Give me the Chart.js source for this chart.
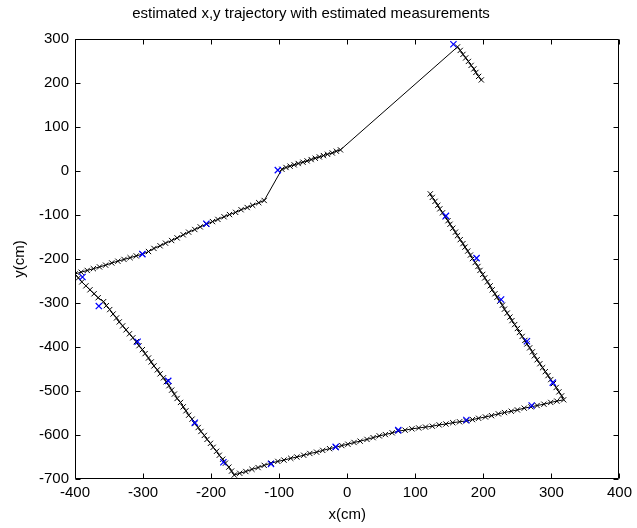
<!DOCTYPE html>
<html>
<head>
<meta charset="utf-8">
<script src="https://cdn.jsdelivr.net/npm/chart.js@4.4.1/dist/chart.umd.min.js"></script>
<style>
  html, body { margin: 0; padding: 0; background: #fff; }
  #wrap { width: 637px; height: 528px; }
</style>
</head>
<body>
<div id="wrap"><canvas id="c" width="637" height="528"></canvas></div>
<script>
// Estimated trajectory (cm), one point per time step, in travel order:
// right side, bottom, left side, upper-left, middle piece, top-right piece.
const trajX = [
  122,125,129,133,136,140,144,148,151,155,159,162,166,170,173,177,181,184,188,192,
  195,199,202,206,210,213,217,220,224,228,231,235,239,242,246,250,253,257,261,264,
  268,272,275,279,283,287,291,295,299,303,307,311,315,318,
  308,299,289,279,270,260,250,241,231,222,212,203,193,184,175,
  165,155,145,135,125,115,105,95,85,75,66,56,47,38,29,19,10,1,-8,-17,
  -26,-36,-45,-55,-64,-74,-83,-93,-102,-112,-122,-131,-140,-149,-158,-166,
  -170,-174,-179,-183,-188,-192,-197,-201,-206,-210,-215,-219,-224,
  -228,-233,-237,-241,-245,-250,-254,-258,-262,-266,
  -270,-275,-279,-284,-288,-292,-297,-301,-306,-310,
  -315,-320,-325,-330,-335,-339,-344,-349,-354,-358,
  -366,-372,-378,-384,-390,-395,-400,
  -391,-382,-373,-364,-355,-346,-337,-328,-319,-310,-301,
  -292,-284,-275,-267,-258,-250,-241,-233,-224,-216,-207,
  -198,-190,-181,-173,-164,-156,-147,-139,-130,-122,
  -96,-90,-84,-78,-72,-65,-59,-53,-47,-41,-35,-29,-22,-16,-10,
  162,166,170,174,178,182,186,189,193,197
];
const trajY = [
  -52,-60,-69,-78,-86,-95,-104,-113,-121,-130,-139,-147,-156,-165,-173,-182,-191,-199,-208,-217,
  -226,-235,-243,-252,-261,-270,-279,-287,-296,-305,-314,-323,-332,-340,-349,-358,-367,-376,-385,-393,
  -402,-411,-420,-429,-438,-447,-456,-465,-474,-483,-492,-502,-511,-520,
  -523,-526,-530,-533,-536,-539,-543,-546,-549,-552,-556,-559,-562,-565,-568,
  -570,-572,-575,-577,-580,-582,-584,-586,-589,-591,-595,-599,-602,-606,-610,-614,-617,-621,-624,-628,
  -631,-635,-639,-642,-646,-650,-653,-657,-660,-664,-669,-674,-678,-683,-687,-691,
  -682,-673,-664,-655,-646,-637,-628,-619,-610,-601,-592,-583,-574,
  -564,-555,-545,-536,-526,-517,-507,-498,-488,-479,
  -470,-461,-452,-443,-434,-425,-415,-406,-397,-388,
  -379,-370,-361,-352,-343,-334,-325,-315,-306,-297,
  -288,-279,-270,-261,-252,-243,-234,
  -230,-226,-222,-218,-214,-209,-205,-201,-197,-193,-189,
  -183,-176,-170,-164,-158,-152,-145,-139,-133,-127,-121,
  -115,-110,-104,-99,-94,-88,-83,-78,-72,-67,
  4,8,11,14,17,20,23,26,29,32,35,38,41,45,48,
  282,274,265,257,249,240,232,224,215,207
];

// Estimated measurement positions (cm)
const measX = [145,190,226,264,302, 271,175,75,-17,-112, -182,-224,-263,-308,-365,-389, -301,-207, -102, 156];
const measY = [-102,-198,-292,-387,-481, -533,-566,-589,-627,-666, -662,-572,-477,-388,-307,-241, -189,-120, 2, 288];

const xTickValues = [-400,-300,-200,-100,0,100,200,300,400];
const yTickValues = [-700,-600,-500,-400,-300,-200,-100,0,100,200,300];

const trajectory = trajX.map((x, i) => ({ x, y: trajY[i] }));
const measurements = measX.map((x, i) => ({ x, y: measY[i] }));

const FONT = 'Liberation Sans, Arial, Helvetica, sans-serif';

// Axes box with inward tick marks on all four sides
const boxAndTicks = {
  id: 'boxAndTicks',
  afterDraw(chart) {
    const { ctx, chartArea: a, scales } = chart;
    const L = Math.round(a.left) + 0.5, R = Math.round(a.right) - 0.5;
    const T = Math.round(a.top) + 0.5, B = Math.round(a.bottom) - 0.5;
    const len = 5;
    ctx.save();
    ctx.strokeStyle = '#000';
    ctx.lineWidth = 1;
    ctx.beginPath();
    ctx.rect(L, T, R - L, B - T);
    xTickValues.forEach(v => {
      const px = Math.round(scales.x.getPixelForValue(v)) + 0.5;
      ctx.moveTo(px, B); ctx.lineTo(px, B - len);
      ctx.moveTo(px, T); ctx.lineTo(px, T + len);
    });
    yTickValues.forEach(v => {
      const py = Math.round(scales.y.getPixelForValue(v)) + 0.5;
      ctx.moveTo(L, py); ctx.lineTo(L + len, py);
      ctx.moveTo(R, py); ctx.lineTo(R - len, py);
    });
    ctx.stroke();
    ctx.restore();
  }
};

new Chart(document.getElementById('c'), {
  type: 'scatter',
  data: {
    datasets: [
      {
        label: 'trajectory',
        data: trajectory,
        showLine: true,
        borderColor: '#000',
        borderWidth: 1,
        pointStyle: 'crossRot',
        pointRadius: 3.7,
        pointBorderColor: '#000',
        pointBackgroundColor: '#000',
        pointBorderWidth: 1,
        order: 1
      },
      {
        label: 'measurements',
        data: measurements,
        showLine: false,
        pointStyle: 'crossRot',
        pointRadius: 4.4,
        pointBorderColor: '#0000ff',
        pointBackgroundColor: '#0000ff',
        pointBorderWidth: 1.2,
        order: 0
      }
    ]
  },
  options: {
    responsive: false,
    animation: false,
    devicePixelRatio: 1,
    layout: { padding: { left: 0, right: 15, top: 0, bottom: 0 } },
    plugins: {
      legend: { display: false },
      tooltip: { enabled: false },
      title: {
        display: true,
        text: 'estimated x,y trajectory with estimated measurements',
        color: '#000',
        font: { family: FONT, size: 15, weight: 'normal' },
        padding: { top: 5, bottom: 16 }
      }
    },
    scales: {
      x: {
        type: 'linear',
        min: -400, max: 400,
        afterBuildTicks(scale) { scale.ticks = xTickValues.map(v => ({ value: v })); },
        afterFit(scale) { scale.height = 49; },
        ticks: { color: '#000', font: { family: FONT, size: 15 }, padding: 5, maxRotation: 0 },
        grid: { display: false, drawTicks: false },
        border: { display: false },
        title: { display: true, text: 'x(cm)', color: '#000', font: { family: FONT, size: 15 }, padding: { top: 0, bottom: 4 } }
      },
      y: {
        type: 'linear',
        min: -700, max: 300,
        afterBuildTicks(scale) { scale.ticks = yTickValues.map(v => ({ value: v })); },
        afterFit(scale) { scale.width = 75; },
        ticks: { color: '#000', font: { family: FONT, size: 15 }, padding: 6 },
        grid: { display: false, drawTicks: false },
        border: { display: false },
        title: { display: true, text: 'y(cm)', color: '#000', font: { family: FONT, size: 15 }, padding: { top: 11, bottom: 0 } }
      }
    }
  },
  plugins: [boxAndTicks]
});
</script>
</body>
</html>
